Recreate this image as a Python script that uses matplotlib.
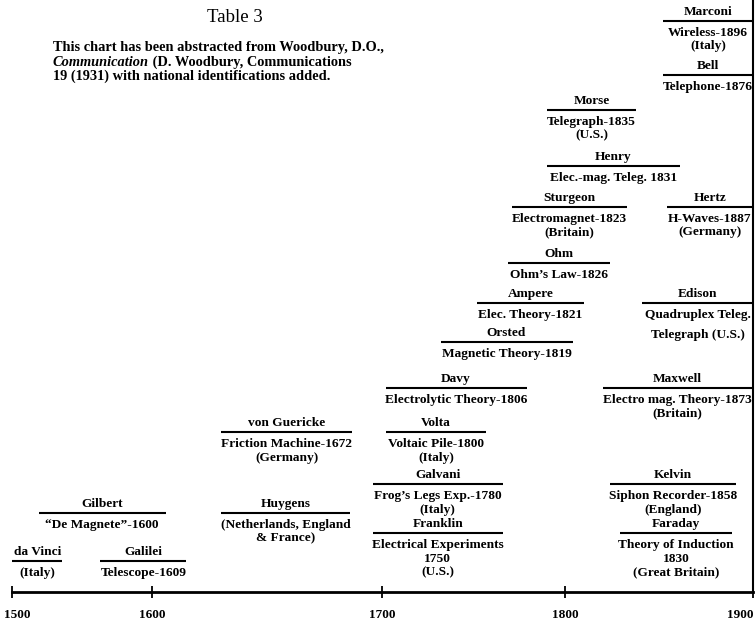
import matplotlib
matplotlib.use("Agg")
import matplotlib.pyplot as plt
import matplotlib.transforms as mtransforms
import numpy as np

# who, what, and the years the rule under each name covers
names = ["Marconi", "Bell", "Morse", "Henry", "Sturgeon", "Hertz", "Ohm",
         "Ampere", "Edison", "Orsted", "Davy", "Maxwell", "von Guericke",
         "Volta", "Galvani", "Kelvin", "Gilbert", "Huygens", "Franklin",
         "Faraday", "da Vinci", "Galilei"]
details = [
    ["Wireless-1896", "(Italy)"],
    ["Telephone-1876"],
    ["Telegraph-1835", "(U.S.)"],
    ["Elec.-mag. Teleg. 1831"],
    ["Electromagnet-1823", "(Britain)"],
    ["H-Waves-1887", "(Germany)"],
    ["Ohm\u2019s Law-1826"],
    ["Elec. Theory-1821"],
    ["Quadruplex Teleg.", "Telegraph (U.S.)"],
    ["Magnetic Theory-1819"],
    ["Electrolytic Theory-1806"],
    ["Electro mag. Theory-1873", "(Britain)"],
    ["Friction Machine-1672", "(Germany)"],
    ["Voltaic Pile-1800", "(Italy)"],
    ["Frog\u2019s Legs Exp.-1780", "(Italy)"],
    ["Siphon Recorder-1858", "(England)"],
    ["\u201cDe Magnete\u201d-1600"],
    ["(Netherlands, England", "& France)"],
    ["Electrical Experiments", "1750", "(U.S.)"],
    ["Theory of Induction", "1830", "(Great Britain)"],
    ["(Italy)"],
    ["Telescope-1609"],
]
span_start = [1852, 1852, 1790, 1790, 1771, 1854, 1769, 1752, 1841, 1732, 1702,
              1820, 1630, 1702, 1696, 1824, 1519, 1630, 1696, 1829, 1500, 1563]
span_end = [1900, 1900, 1838, 1861, 1833, 1900, 1824, 1810, 1900, 1804, 1779,
            1900, 1687, 1757, 1766, 1891, 1606, 1686, 1766, 1889, 1536, 1615]
# vertical row of each entry (px from top)
rows = [21, 75, 110, 166, 207, 207, 263, 303, 303, 342, 388, 388, 432, 432,
        484, 484, 513, 513, 533, 533, 561, 561]

tick_years = [1500, 1600, 1700, 1800, 1900]
tick_labels = ["1500", "1600", "1700", "1800", "1900"]

title = "Table 3"
note_1 = "This chart has been abstracted from Woodbury, D.O.,"
note_2_italic = "Communication"
note_2_rest = " (D. Woodbury, Communications"
note_3 = "19 (1931) with national identifications added."

# the printed axis is not to scale: each century gets its own width
century_px = [12, 152, 382, 565, 753]
yrs_ext = [1000] + tick_years + [2400]
px_ext = [12 - 500 * 1.4] + century_px + [753 + 500 * 1.88]


def fwd(x):
    return np.interp(x, yrs_ext, px_ext)


def inv(p):
    return np.interp(p, px_ext, yrs_ext)


font = "Liberation Serif"
fs = 9.6

fig = plt.figure(figsize=(7.55, 6.24), dpi=100)
ax = fig.add_axes([0, 0, 1, 1])
ax.set_xscale("function", functions=(fwd, inv))
ax.set_xlim(inv(0), inv(755))
ax.set_ylim(624, 0)

for name, det, a, b, r in zip(names, details, span_start, span_end, rows):
    mid = inv((fwd(a) + fwd(b)) / 2)
    ax.hlines(r, a, b, color="black", lw=1.5)
    ax.text(mid, r - 9, name, ha="center", va="center", fontsize=fs,
            family=font, weight="bold")
    step = 20 if name == "Edison" else 13.5
    for i, line in enumerate(det):
        ax.text(mid, r + 12 + step * i, line, ha="center", va="center",
                fontsize=fs, family=font, weight="bold")

ax.text(inv(235), 17, title, ha="center", va="center", fontsize=13.5,
        family=font)
nfs = 10.4
ax.text(inv(53), 48, note_1, ha="left", va="center", fontsize=nfs,
        family=font, weight="bold")
it = ax.text(inv(53), 62, note_2_italic, ha="left", va="center", fontsize=nfs,
             family=font, weight="bold", style="italic")
ax.annotate(note_2_rest, xy=(1, 0.5), xycoords=it, ha="left", va="center",
            fontsize=nfs, family=font, weight="bold")
ax.text(inv(53), 76, note_3, ha="left", va="center", fontsize=nfs,
        family=font, weight="bold")

# the time axis and the right-hand border
for s in ["left", "top"]:
    ax.spines[s].set_visible(False)
ax.spines["bottom"].set_position(("data", 592))
ax.spines["bottom"].set_bounds(1500, 1900)
ax.spines["bottom"].set_linewidth(2)
ax.spines["right"].set_position(("data", 1900))
ax.spines["right"].set_bounds(0, 592)
ax.spines["right"].set_linewidth(1.5)

ax.set_yticks([])
ax.set_xticks(tick_years)
ax.set_xticklabels(tick_labels, fontsize=9.5, family=font, weight="bold")
ax.tick_params(axis="x", direction="inout", length=8, width=1.3, pad=8)
labels = ax.get_xticklabels()
labels[-1].set_horizontalalignment("right")
labels[0].set_transform(labels[0].get_transform() +
                        mtransforms.ScaledTranslation(5 / 100, 0,
                                                      fig.dpi_scale_trans))

fig.savefig("out.png", dpi=100)
